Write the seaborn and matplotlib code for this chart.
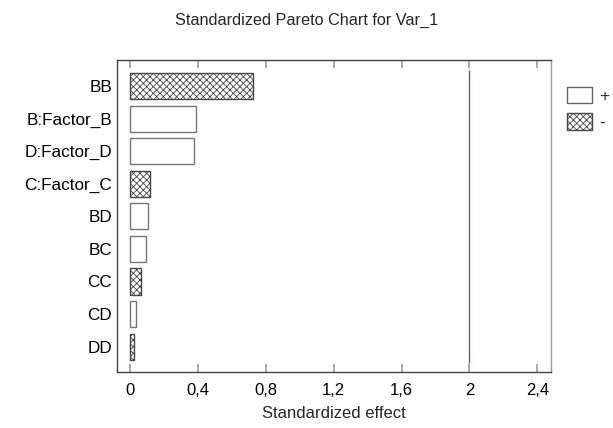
import matplotlib
matplotlib.use("Agg")
import matplotlib.pyplot as plt
import seaborn as sns
import pandas as pd
from matplotlib.patches import Patch

terms = ["BB", "B:Factor_B", "D:Factor_D", "C:Factor_C", "BD", "BC", "CC", "CD", "DD"]
effects = [0.723, 0.39, 0.376, 0.118, 0.106, 0.098, 0.065, 0.037, 0.027]
signs = ["-", "+", "+", "-", "+", "+", "-", "+", "-"]
critical_value = 2.0
xticks = [0, 0.4, 0.8, 1.2, 1.6, 2.0, 2.4]
xtick_labels = ["0", "0,4", "0,8", "1,2", "1,6", "2", "2,4"]

sns.set_style("white")
plt.rcParams["font.family"] = ["Liberation Sans", "DejaVu Sans"]
plt.rcParams["hatch.linewidth"] = 0.6

df = pd.DataFrame({"term": terms, "effect": effects, "sign": signs})

fig = plt.figure(figsize=(6.13, 4.28), dpi=100)
ax = fig.add_axes([0.1909, 0.1308, 0.708, 0.7282])

sns.barplot(data=df, x="effect", y="term", orient="h", color="white",
            width=0.8, linewidth=1.0, edgecolor="#555555", ax=ax)

for patch, s in zip(ax.patches, signs):
    patch.set_facecolor("white")
    if s == "-":
        patch.set_hatch("xxxxx")
        patch.set_edgecolor("#444444")
    else:
        patch.set_edgecolor("#777777")

ax.vlines(critical_value, -0.5, 8.5, color="#5555c8", linewidth=1.0)

ax.set_xlim(-0.075, 2.48)
ax.set_ylim(8.78, -0.79)
ax.set_xticks(xticks)
ax.set_xticklabels(xtick_labels)
ax.tick_params(axis="x", direction="in", length=6, width=1.2, color="#999999",
               top=True, bottom=True, labelsize=12, pad=8, labelcolor="black")
ax.tick_params(axis="y", length=0, labelsize=12.3, pad=3.5, labelcolor="black")
ax.set_xlabel("Standardized effect", fontsize=12, labelpad=6)
ax.set_ylabel("")

for side in ["left", "bottom", "top"]:
    ax.spines[side].set_color("#444444")
    ax.spines[side].set_linewidth(1.0)
ax.spines["right"].set_color("#999999")
ax.spines["right"].set_linewidth(1.0)

fig.text(0.5, 0.953, "Standardized Pareto Chart for Var_1", ha="center", va="center", fontsize=11.7)

handles = [Patch(facecolor="white", edgecolor="#666666", label="+"),
           Patch(facecolor="white", edgecolor="#444444", hatch="xxxxx", label="-")]
fig.legend(handles=handles, loc="upper left", bbox_to_anchor=(0.925, 0.797),
           frameon=False, fontsize=12.5, handlelength=1.45, handleheight=1.05,
           handletextpad=0.4, labelspacing=0.55, borderaxespad=0, borderpad=0)

fig.savefig("out.png", dpi=100)
